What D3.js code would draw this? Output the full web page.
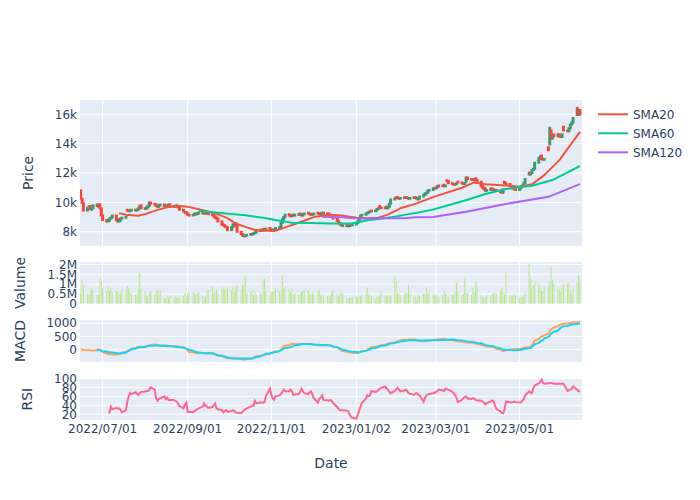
<!DOCTYPE html>
<html><head><meta charset="utf-8">
<script src="https://cdn.jsdelivr.net/npm/d3@7"></script>
<style>body{margin:0;background:#fff}svg{display:block}text{font-family:"DejaVu Sans",Verdana,sans-serif;fill:#2a3f5f}</style>
</head><body><svg id="c" width="700" height="500"></svg>
<script>
// ---------- DATA ----------
const firstDay = "2022-06-15", lastDay = "2023-06-14";   // trading days (Mon-Fri)
const xTickDates = ["2022/07/01","2022/09/01","2022/11/01","2023/01/02","2023/03/01","2023/05/01"];

const open = [10800,10250,9950,9450,9600,9750,9500,9600,9850,9700,
9850,9600,9100,8800,8700,8750,8900,8950,9100,8850,
8700,8750,8900,8950,9500,9450,9400,9450,9500,9450,
9500,9600,9800,9600,9550,9650,9750,10000,9900,9850,
9750,9700,9800,9850,9750,9700,9800,9850,9750,9700,
9750,9700,9650,9500,9300,9350,9250,9150,9100,9150,
9250,9200,9250,9300,9250,9350,9250,9350,9200,9150,
9050,8950,8900,8700,8500,8450,8350,8300,8100,8300,
8500,8600,8400,8000,7850,7750,7700,7750,7850,7800,
7850,7900,7950,8050,8150,8100,8200,8150,8250,8150,
8050,8100,8150,8250,8300,8600,8850,9000,9200,9100,
9050,9150,9100,9150,9250,9150,9100,9200,9300,9250,
9200,9150,9200,9300,9250,9200,9250,9300,9250,9250,
9150,9100,9050,8900,8750,8600,8500,8400,8450,8350,
8400,8500,8450,8500,8600,8700,8900,9100,9150,9250,
9300,9350,9450,9400,9450,9550,9750,9650,9600,9700,
9600,9700,9900,10200,10350,10350,10300,10250,10350,10300,
10350,10300,10250,10300,10350,10300,10200,10250,10400,10500,
10600,10650,10800,10850,11000,10950,11000,11150,11100,11200,
11100,11500,11450,11300,11250,11200,11250,11400,11350,11300,
11250,11400,11700,11600,11550,11500,11650,11550,11400,11100,
11000,10950,10800,10850,10950,10900,10800,10850,10800,10700,
10650,11400,11300,11250,11100,11000,10950,10900,10850,10950,
11100,11150,11300,12000,11900,12000,12200,12300,12700,13000,
13200,12950,12900,13750,13950,14900,14350,14600,14500,14650,
14500,14450,15150,14900,14850,15050,15300,15450,16400,15950,16300];

const high = [10900,10300,10000,9700,9800,9800,9650,9850,9900,9900,
9900,9650,9150,8850,8800,8950,9000,9150,9150,8900,
8800,8950,9000,9050,9550,9500,9500,9550,9550,9550,
9650,9800,9850,9650,9700,9800,10050,10050,9950,9900,
9800,9850,9900,9900,9800,9850,9900,9900,9800,9800,
9850,9750,9700,9550,9400,9400,9300,9200,9200,9300,
9300,9300,9350,9350,9350,9400,9400,9400,9250,9200,
9100,9000,8950,8750,8550,8500,8400,8350,8350,8550,
8600,8650,8450,8050,7900,7800,7800,7850,7900,7900,
7950,8000,8100,8150,8200,8200,8250,8250,8300,8200,
8150,8200,8300,8350,8650,8900,9050,9200,9250,9150,
9150,9200,9200,9250,9300,9200,9250,9300,9350,9300,
9250,9250,9300,9350,9300,9300,9350,9350,9300,9300,
9200,9150,9100,8950,8800,8650,8550,8500,8500,8450,
8500,8550,8550,8650,8750,8950,9150,9200,9300,9350,
9400,9450,9500,9500,9600,9650,9800,9700,9700,9750,
9750,9950,10250,10300,10400,10400,10350,10350,10400,10400,
10400,10350,10350,10400,10400,10350,10300,10450,10550,10650,
10700,10850,10900,11000,11050,11050,11150,11200,11200,11250,
11200,11550,11500,11350,11300,11300,11350,11450,11400,11350,
11350,11750,11750,11650,11600,11650,11700,11600,11450,11150,
11050,11000,10900,11000,11000,10950,10900,10900,10850,10750,
10950,11450,11350,11300,11150,11050,11000,10950,11000,11150,
11200,11350,11650,12100,12050,12250,12350,12750,13100,13200,
13250,13000,13000,13800,15150,14950,14650,14700,14700,14700,
14550,14700,15200,14950,15100,15350,15500,15800,16500,16400,16350];

const low = [10200,9900,9400,9400,9550,9500,9450,9550,9700,9650,
9550,9050,8750,8650,8650,8700,8850,8900,8750,8650,
8650,8700,8850,8900,9400,9350,9350,9400,9400,9400,
9450,9550,9550,9500,9500,9600,9700,9850,9800,9700,
9650,9650,9750,9700,9650,9650,9750,9700,9650,9650,
9700,9600,9450,9350,9250,9200,9100,9050,9050,9100,
9150,9150,9200,9200,9200,9200,9200,9150,9100,9000,
8900,8850,8650,8450,8400,8300,8250,8050,8050,8250,
8450,8350,7950,7800,7700,7650,7650,7700,7750,7750,
7800,7850,7900,8000,8050,8050,8100,8100,8100,8000,
8000,8050,8100,8200,8250,8550,8800,8950,9050,9000,
9000,9050,9050,9100,9100,9050,9050,9150,9200,9150,
9100,9100,9150,9200,9150,9150,9200,9200,9150,9100,
9050,9000,8850,8700,8550,8450,8400,8350,8350,8300,
8350,8400,8400,8450,8550,8650,8850,9050,9100,9200,
9250,9300,9350,9350,9400,9500,9600,9550,9550,9550,
9550,9650,9850,10150,10250,10250,10200,10200,10250,10250,
10250,10200,10200,10250,10250,10200,10150,10200,10350,10450,
10550,10600,10750,10800,10900,10900,10950,11050,11050,11050,
11050,11400,11250,11200,11150,11150,11200,11300,11250,11200,
11200,11350,11550,11500,11450,11450,11500,11350,11050,10950,
10850,10750,10750,10800,10850,10800,10750,10750,10650,10600,
10600,11250,11200,11050,10950,10900,10850,10800,10800,10900,
11050,11100,11250,11850,11850,11950,12150,12250,12650,12950,
12900,12850,12850,13500,13900,14300,14300,14450,14450,14450,
14400,14400,14850,14800,14800,15000,15250,15400,15900,15900,15950];

const close = [10300,10000,9450,9600,9700,9550,9600,9800,9750,9850,
9600,9100,8800,8700,8750,8900,8950,9100,8800,8700,
8750,8900,8950,9000,9450,9400,9450,9500,9450,9500,
9600,9750,9600,9550,9650,9750,10000,9900,9850,9750,
9700,9800,9850,9750,9700,9800,9850,9750,9700,9750,
9800,9650,9500,9400,9350,9250,9150,9100,9150,9250,
9200,9250,9300,9250,9300,9250,9350,9200,9150,9050,
8950,8900,8700,8500,8450,8350,8300,8100,8300,8500,
8550,8400,8000,7850,7750,7700,7750,7800,7800,7850,
7900,7950,8050,8100,8100,8150,8150,8200,8150,8050,
8100,8150,8250,8300,8600,8850,9000,9150,9100,9050,
9100,9100,9150,9200,9150,9100,9200,9250,9250,9200,
9150,9200,9250,9250,9200,9250,9300,9250,9200,9150,
9100,9050,8900,8750,8600,8500,8450,8450,8400,8400,
8450,8450,8500,8600,8700,8900,9100,9150,9250,9300,
9350,9400,9400,9450,9550,9600,9650,9600,9650,9600,
9700,9900,10200,10250,10300,10300,10250,10300,10300,10350,
10300,10250,10300,10350,10300,10250,10250,10400,10500,10600,
10650,10800,10850,10950,10950,11000,11100,11100,11150,11100,
11150,11450,11300,11250,11200,11250,11300,11350,11300,11250,
11300,11700,11600,11550,11500,11600,11550,11400,11100,11000,
10900,10800,10850,10950,10900,10850,10850,10800,10700,10650,
10900,11300,11250,11100,11000,10950,10900,10850,10950,11100,
11150,11300,11600,11900,12000,12200,12300,12700,13000,13100,
12950,12900,12950,13550,15050,14350,14600,14500,14650,14500,
14450,14650,14900,14850,15050,15300,15450,15750,15950,16300,16000];

// volume in millions
const volume = [0.54,1.22,0.97,0.54,0.49,0.63,0.83,0.71,0.46,0.46,
1.31,1.17,0.80,0.66,0.88,0.71,0.80,0.63,0.66,0.63,
0.46,0.54,0.71,0.63,0.93,0.80,0.63,0.49,0.46,0.46,
0.76,1.61,0.80,0.63,0.42,0.32,0.54,0.66,0.46,0.71,
0.71,0.49,0.71,0.32,0.29,0.37,0.32,0.42,0.29,0.37,
0.32,0.32,0.32,0.42,0.59,0.32,0.54,0.66,0.59,0.54,
0.46,0.54,0.59,0.42,0.37,0.37,0.71,0.76,0.88,0.54,
0.63,0.71,0.54,0.88,0.80,0.76,0.76,0.83,0.76,0.83,
0.63,0.88,0.97,0.71,1.00,0.97,1.39,0.54,0.63,0.71,
0.46,0.63,0.46,0.54,0.49,1.27,1.27,0.66,0.59,0.63,
0.63,0.66,0.80,0.71,0.54,1.44,0.83,0.88,0.76,0.63,
0.80,0.49,0.54,0.46,0.49,0.63,0.66,0.71,0.71,0.46,
0.49,0.54,0.49,0.63,0.71,0.42,0.49,0.37,0.42,0.29,
0.42,0.60,0.71,0.50,0.45,0.60,0.50,0.55,0.30,0.30,
0.32,0.30,0.35,0.38,0.35,0.40,0.45,0.50,0.46,0.83,
0.50,0.35,0.40,0.30,0.38,0.32,0.50,0.66,0.40,0.45,
0.38,0.40,0.45,1.39,1.17,0.60,0.50,0.38,0.45,0.60,
0.55,0.97,0.50,0.45,0.35,0.25,0.45,0.40,0.55,0.50,
0.83,0.55,0.60,0.55,0.50,0.45,0.40,0.35,0.50,0.68,
0.55,0.40,0.35,0.45,0.50,0.63,1.10,0.55,0.45,0.50,
1.31,0.60,0.55,0.50,0.83,0.60,1.14,0.88,0.45,0.40,
0.30,0.35,0.45,0.40,0.50,0.55,0.60,0.55,0.65,0.83,
0.60,0.50,1.64,0.45,0.40,0.42,0.50,0.45,0.35,0.38,
0.35,0.40,0.55,2.02,1.31,0.80,0.95,1.05,1.05,0.85,
0.70,0.65,0.90,0.85,1.10,1.90,1.27,1.00,0.85,0.75,
0.65,0.85,1.00,1.05,1.05,0.70,0.55,0.80,1.10,1.47,1.20];

// moving averages, read at selected trading-day indexes
const sma20Idx = [20,23,30,33,40,45,52,56,62,70,77,81,86,90,95,102,107,115,122,129,136,143,148,155,160,167,174,184,198,205,211,223,228,235,242,249,260];
const sma20Val = [9270,9160,9090,9200,9490,9670,9760,9710,9530,9270,8930,8560,8330,8150,8060,8070,8300,8680,9000,9160,9100,8960,8920,8960,9170,9600,9900,10390,11000,11360,11230,11130,11070,11230,11860,12880,14800];
const sma60Idx = [62,86,96,104,108,110,120,130,134,142,144,150,155,164,168,174,183,199,211,222,235,246,260];
const sma60Val = [9420,9130,8934,8730,8645,8620,8600,8570,8557,8570,8645,8800,8867,9045,9150,9270,9520,10090,10570,10910,11135,11520,12480];
const sma120Idx = [126,137,142,150,158,168,174,183,201,220,243,260];
const sma120Val = [9020,8980,8920,8900,8920,8920,8980,9000,9360,9860,10380,11240];

const macd = [0,-10,-20,-22,-25,-30,-35,-35,-30,-20,
-10,-40,-100,-140,-165,-175,-180,-185,-190,-180,
-170,-150,-120,-90,-60,-30,0,30,63,75,
85,95,105,114,130,145,160,175,190,180,
170,160,152,152,152,152,148,142,136,130,
127,115,100,80,63,20,-30,-89,-100,-110,
-120,-127,-127,-127,-127,-127,-127,-127,-127,-150,
-170,-190,-215,-240,-265,-291,-310,-325,-342,-342,
-342,-342,-342,-355,-368,-380,-370,-360,-350,-342,
-310,-280,-253,-235,-220,-205,-190,-170,-150,-127,
-110,-90,-75,-63,0,60,127,150,175,195,
215,215,215,215,215,215,215,215,215,215,
215,205,190,175,165,165,165,165,165,160,
150,130,110,89,50,10,-30,-60,-80,-95,
-101,-110,-120,-127,-127,-110,-90,-63,-40,-10,
30,60,89,105,120,135,150,165,180,200,
220,240,253,270,290,310,330,350,367,370,
373,376,378,380,370,355,340,330,316,320,
330,340,350,360,367,375,385,395,400,405,
395,380,365,350,342,330,320,310,300,291,
285,280,270,260,253,240,225,210,190,165,
150,135,120,105,95,89,60,30,0,-35,
-63,-50,-30,0,5,10,15,20,25,35,
50,65,80,95,106,170,250,330,400,460,
490,520,545,600,700,760,800,840,880,920,
950,966,975,985,995,1005,1015,1025,1035,1045,1053];

const signal = [null,null,null,null,null,null,null,null,0,-10,
-30,-45,-60,-75,-90,-101,-101,-115,-130,-140,
-150,-152,-140,-110,-80,-50,-20,10,40,60,
75,85,89,100,115,130,140,148,152,152,
152,150,145,140,135,130,127,122,115,108,
100,95,89,70,50,35,25,-5,-40,-70,
-90,-101,-115,-130,-140,-145,-150,-152,-152,-165,
-180,-200,-220,-240,-253,-265,-280,-300,-320,-335,
-340,-342,-342,-342,-342,-342,-342,-342,-342,-342,
-320,-300,-280,-260,-240,-220,-190,-170,-150,-130,
-115,-100,-89,-60,-30,0,30,60,75,89,
110,130,150,170,190,205,215,215,210,205,
200,195,190,185,180,175,170,170,168,166,
165,140,115,90,63,40,15,-10,-35,-50,
-63,-75,-85,-95,-100,-101,-90,-70,-50,-30,
-10,10,38,55,75,95,115,135,150,165,
185,205,225,245,265,280,291,305,320,335,
345,350,354,354,350,348,346,345,343,342,
342,344,346,348,350,352,353,354,358,362,
366,370,375,378,380,370,360,350,340,330,
322,316,306,297,288,280,270,253,235,215,
195,175,155,140,130,127,100,75,50,25,
0,-5,-10,-15,-20,-22,-24,-25,-20,-10,
5,20,35,45,60,100,150,200,250,300,
340,360,420,480,540,600,640,675,720,770,
820,860,880,890,910,930,945,960,966,980,992];

const rsi = [null,null,null,null,null,null,null,null,null,null,
null,null,null,null,24,24,37,31,34,33,
33,30,24,29,48,60,67,65,69,66,
63,67,70,71,72,72,74,80,75,56,
50,54,56,60,54,57,52,52,52,50,
48,44,38,33,42,46,25,25,25,27,
29,31,33,37,44,39,37,34,36,39,
44,33,31,29,24,27,29,25,27,29,
27,24,23,22,25,29,31,33,37,39,
39,50,44,46,46,46,47,60,77,63,
55,52,60,62,65,70,75,72,71,75,
72,63,64,65,70,77,71,67,65,69,
71,64,56,46,55,57,62,52,51,50,
52,50,45,36,32,29,29,29,28,27,
20,14,12,10,18,28,37,45,55,63,
60,62,72,70,71,74,77,79,82,78,
75,70,67,72,75,79,75,71,73,75,
72,67,66,63,66,67,64,63,48,57,
62,64,65,67,68,69,72,75,73,72,
77,76,75,70,67,62,57,47,52,56,
58,60,55,54,56,55,52,51,50,48,
46,42,45,48,51,50,40,32,26,23,
22,30,48,47,46,47,48,47,46,46,
50,53,62,71,68,67,78,84,89,92,
98,90,88,89,90,90,89,88,88,88,
88,88,88,72,74,75,77,82,75,71,72];

const priceTicks = [8000,10000,12000,14000,16000], priceTickLabels = ["8k","10k","12k","14k","16k"];
const volTicks = [0,0.5,1,1.5,2], volTickLabels = ["0","0.5M","1M","1.5M","2M"];
const macdTicks = [0,500,1000], macdTickLabels = ["0","500","1000"];
const rsiTicks = [20,40,60,80,100], rsiTickLabels = ["20","40","60","80","100"];
const legendNames = ["SMA20","SMA60","SMA120"];

// ---------- DRAW ----------
const svg = d3.select("#c");
const X0 = 80, X1 = 582;
const parseDay = d3.timeParse("%Y-%m-%d"), parseTick = d3.timeParse("%Y/%m/%d");
const dates = d3.timeDay.range(parseDay(firstDay), d3.timeDay.offset(parseDay(lastDay), 1))
  .filter(d => d.getDay() !== 0 && d.getDay() !== 6);
const x = d3.scaleTime()
  .domain([d3.timeHour.offset(parseDay(firstDay), -12), d3.timeHour.offset(parseDay(lastDay), 36)])
  .range([X0, X1]);
const dayPx = x(parseDay("2022-06-16")) - x(parseDay("2022-06-15"));

const C = {up:"#3D9970", down:"#FF4136", sma20:"#EF553B", sma60:"#00cc96", sma120:"#ab63fa",
  macd:"#FFA15A", signal:"#19d3f3", rsi:"#FF6692", vol:"#B6E880", bg:"#E5ECF6", axis:"#2a3f5f"};

function panel(id, top, bottom, domain, ticks, labels, title, titleX){
  const y = d3.scaleLinear().domain(domain).range([bottom, top]);
  const g = svg.append("g");
  g.append("rect").attr("x", X0).attr("y", top).attr("width", X1 - X0).attr("height", bottom - top).attr("fill", C.bg);
  const xt = xTickDates.map(parseTick);
  g.selectAll(".vg").data(xt).join("line").attr("x1", d => x(d)).attr("x2", d => x(d))
    .attr("y1", top).attr("y2", bottom).attr("stroke", "#fff").attr("stroke-width", 1);
  g.selectAll(".hg").data(ticks).join("line").attr("x1", X0).attr("x2", X1)
    .attr("y1", d => y(d)).attr("y2", d => y(d)).attr("stroke", "#fff").attr("stroke-width", 1);
  g.selectAll(".tl").data(ticks).join("text").attr("x", X0 - 3).attr("y", d => y(d)).attr("dy", "0.36em")
    .attr("text-anchor", "end").attr("font-size", 12).text((d, i) => labels[i]);
  svg.append("text").attr("transform", `translate(${titleX},${(top + bottom) / 2}) rotate(-90)`)
    .attr("text-anchor", "middle").attr("dy", "0.36em").attr("font-size", 14).text(title);
  svg.append("clipPath").attr("id", id).append("rect").attr("x", X0).attr("y", top).attr("width", X1 - X0).attr("height", bottom - top);
  const m = svg.append("g").attr("clip-path", `url(#${id})`);
  return {y, m};
}

// Price
const P = panel("cp", 100, 245.7, [7050, 16975], priceTicks, priceTickLabels, "Price", 28);
const bw = dayPx * 0.7;
P.m.selectAll("path.candle").data(dates).join("path")
  .attr("d", (d, i) => {
    const cx = x(d), yo = P.y(open[i]), yc = P.y(close[i]), yh = P.y(high[i]), yl = P.y(low[i]);
    const t = Math.min(yo, yc), b = Math.max(yo, yc);
    return `M${cx},${yh}V${t}M${cx - bw / 2},${t}H${cx + bw / 2}V${b}H${cx - bw / 2}ZM${cx},${b}V${yl}`;
  })
  .attr("stroke", (d, i) => close[i] >= open[i] ? C.up : C.down)
  .attr("fill", (d, i) => close[i] >= open[i] ? C.up : C.down)
  .attr("stroke-width", 2);
function smaLine(idx, val, color){
  P.m.append("path").datum(idx.map((k, j) => [dates[k], val[j]]))
    .attr("d", d3.line().x(d => x(d[0])).y(d => P.y(d[1])))
    .attr("fill", "none").attr("stroke", color).attr("stroke-width", 2).attr("stroke-linejoin", "round");
}
smaLine(sma20Idx, sma20Val, C.sma20);
smaLine(sma60Idx, sma60Val, C.sma60);
smaLine(sma120Idx, sma120Val, C.sma120);

// Volume
const V = panel("cv", 262.1, 303.8, [0, 2.12], volTicks, volTickLabels, "Valume", 20);
const vw = dayPx;
V.m.selectAll("rect.v").data(dates).join("rect")
  .attr("x", d => x(d) - vw / 2).attr("width", vw)
  .attr("y", (d, i) => V.y(volume[i])).attr("height", (d, i) => V.y(0) - V.y(volume[i]))
  .attr("fill", C.vol).attr("stroke", C.bg).attr("stroke-width", 0.4);

// MACD
const M = panel("cm", 320.2, 361.9, [-466, 1110], macdTicks, macdTickLabels, "MACD", 20);
const lineOf = (arr, ys) => d3.line().defined((d, i) => arr[i] !== null).x(d => x(d)).y((d, i) => ys(arr[i]));
M.m.append("path").datum(dates).attr("d", lineOf(macd, M.y)).attr("fill", "none").attr("stroke", C.macd).attr("stroke-width", 2);
M.m.append("path").datum(dates).attr("d", lineOf(signal, M.y)).attr("fill", "none").attr("stroke", C.signal).attr("stroke-width", 2);

// RSI
const R = panel("cr", 378.3, 420, [7, 100.3], rsiTicks, rsiTickLabels, "RSI", 27);
R.m.append("path").datum(dates).attr("d", lineOf(rsi, R.y)).attr("fill", "none").attr("stroke", C.rsi).attr("stroke-width", 2);

// X tick labels and title
svg.selectAll("text.xt").data(xTickDates).join("text")
  .attr("x", d => x(parseTick(d))).attr("y", 433).attr("text-anchor", "middle").attr("font-size", 12).text(d => d);
svg.append("text").attr("x", (X0 + X1) / 2).attr("y", 468).attr("text-anchor", "middle").attr("font-size", 14).text("Date");

// Legend
const legColors = [C.sma20, C.sma60, C.sma120];
const lg = svg.append("g");
legendNames.forEach((n, i) => {
  const yy = 114.3 + i * 19;
  lg.append("line").attr("x1", 598).attr("x2", 628).attr("y1", yy).attr("y2", yy).attr("stroke", legColors[i]).attr("stroke-width", 2);
  lg.append("text").attr("x", 633).attr("y", yy).attr("dy", "0.36em").attr("font-size", 12).text(n);
});
</script></body></html>
